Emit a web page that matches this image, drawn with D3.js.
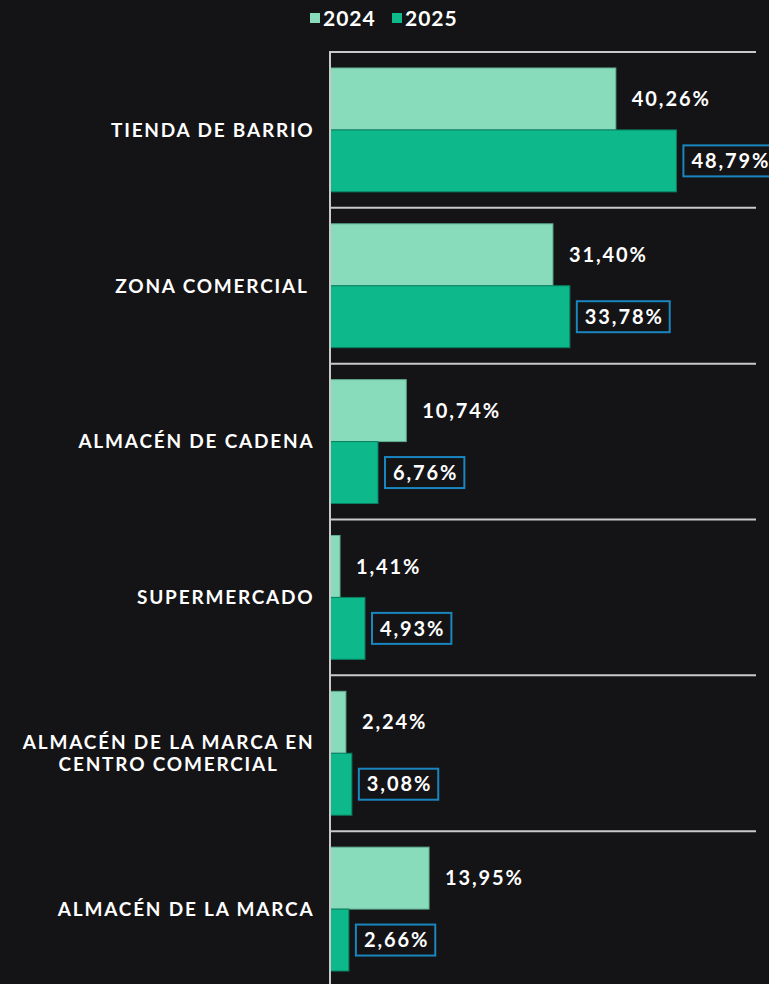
<!DOCTYPE html>
<html><head><meta charset="utf-8">
<script src="https://cdn.jsdelivr.net/npm/d3@7"></script>
<style>
html,body{margin:0;padding:0;background:#141416;}
svg{display:block;}
</style></head>
<body>
<script>
const categories = [
  ["TIENDA DE BARRIO"],
  ["ZONA COMERCIAL "],
  ["ALMACÉN DE CADENA"],
  ["SUPERMERCADO"],
  ["ALMACÉN DE LA MARCA EN", "CENTRO COMERCIAL"],
  ["ALMACÉN DE LA MARCA"]
];
const seriesNames = ["2024", "2025"];
const values2024 = [40.26, 31.40, 10.74, 1.41, 2.24, 13.95];
const values2025 = [48.79, 33.78, 6.76, 4.93, 3.08, 2.66];
const colors = ["#88dcbb", "#0db88a"];

const W = 769, H = 984;
const font = "Lato, 'Open Sans', sans-serif";
const fmt = v => v.toFixed(2).replace(".", ",") + "%";

const svg = d3.select("body").append("svg").attr("width", W).attr("height", H);
svg.append("rect").attr("width", W).attr("height", H).attr("fill", "#141416");

const x0 = 330;
const x = d3.scaleLinear().domain([0, 60]).range([x0, 756]);
const y = d3.scaleBand().domain(d3.range(categories.length)).range([52, 987]).padding(0);
const ys = d3.scaleBand().domain(seriesNames).range([0, y.bandwidth()]).paddingInner(0).paddingOuter(0.258);

// separators
svg.append("g").selectAll("line").data(d3.range(categories.length)).join("line")
  .attr("x1", x0).attr("x2", x(60)).attr("y1", d => y(d)).attr("y2", d => y(d))
  .attr("stroke", "#c9c9c9").attr("stroke-width", 2);

const data = categories.map((c, i) => ({i, c, v: [values2024[i], values2025[i]]}));

const g = svg.append("g").selectAll("g").data(data).join("g")
  .attr("transform", d => `translate(0,${y(d.i)})`);

seriesNames.forEach((s, si) => {
  g.append("rect")
    .attr("x", x(0)).attr("y", ys(s))
    .attr("width", d => x(d.v[si]) - x(0))
    .attr("height", ys.bandwidth())
    .attr("fill", colors[si])
    .attr("stroke", si === 0 ? "#5fae90" : "#0a7f60").attr("stroke-width", 1);
});

const valStyle = sel => sel.attr("fill", "#fff").attr("font-family", font).attr("font-weight", 700)
  .attr("font-size", 20).attr("letter-spacing", 1.9);

// 2024 labels
g.append("text")
  .attr("x", d => x(d.v[0]) + 16)
  .attr("y", ys("2024") + ys.bandwidth() / 2)
  .attr("dy", "0.36em")
  .call(valStyle)
  .text(d => fmt(d.v[0]));

// 2025 labels in boxes
const lab = g.append("g").attr("transform", d => `translate(${x(d.v[1]) + 7},${ys("2025") + ys.bandwidth() / 2})`);
lab.append("text")
  .attr("x", 8).attr("dy", "0.36em")
  .call(valStyle)
  .text(d => fmt(d.v[1]));
lab.each(function() {
  const gg = d3.select(this);
  const w = gg.select("text").node().getComputedTextLength();
  gg.insert("rect", "text").attr("x", 0).attr("y", -15.5).attr("width", w + 14).attr("height", 31)
    .attr("fill", "none").attr("stroke", "#1a86bf").attr("stroke-width", 2);
});

// category labels
const catStyle = sel => sel.attr("fill", "#fff").attr("font-family", font).attr("font-weight", 700)
  .attr("font-size", 19).attr("letter-spacing", 1.8).style("white-space", "pre");
g.each(function(d) {
  const gg = d3.select(this);
  const mid = y.bandwidth() / 2;
  if (d.c.length === 1) {
    gg.append("text").call(catStyle)
      .attr("x", 314.5).attr("y", mid).attr("dy", "0.36em").attr("text-anchor", "end").text(d.c[0]);
  } else {
    const first = gg.append("text").call(catStyle)
      .attr("x", 314.5).attr("y", mid - 11).attr("dy", "0.36em").attr("text-anchor", "end").text(d.c[0]);
    const w0 = first.node().getComputedTextLength();
    gg.append("text").call(catStyle)
      .attr("x", 314.5 - w0 / 2).attr("y", mid + 11).attr("dy", "0.36em").attr("text-anchor", "middle").text(d.c[1]);
  }
});

// axis vertical line
svg.append("line").attr("x1", x0).attr("x2", x0).attr("y1", 51).attr("y2", H)
  .attr("stroke", "#c9c9c9").attr("stroke-width", 2);

// legend
const leg = svg.append("g").attr("transform", "translate(310,0)");
const lx = [0, 82];
seriesNames.forEach((s, i) => {
  leg.append("rect").attr("x", lx[i]).attr("y", 13).attr("width", 10).attr("height", 10).attr("fill", colors[i]);
  leg.append("text").attr("x", lx[i] + 13).attr("y", 18).attr("dy", "0.36em")
    .attr("fill", "#fff").attr("font-family", font).attr("font-weight", 700).attr("font-size", 21)
    .attr("letter-spacing", 1)
    .text(s);
});
</script>
</body></html>
